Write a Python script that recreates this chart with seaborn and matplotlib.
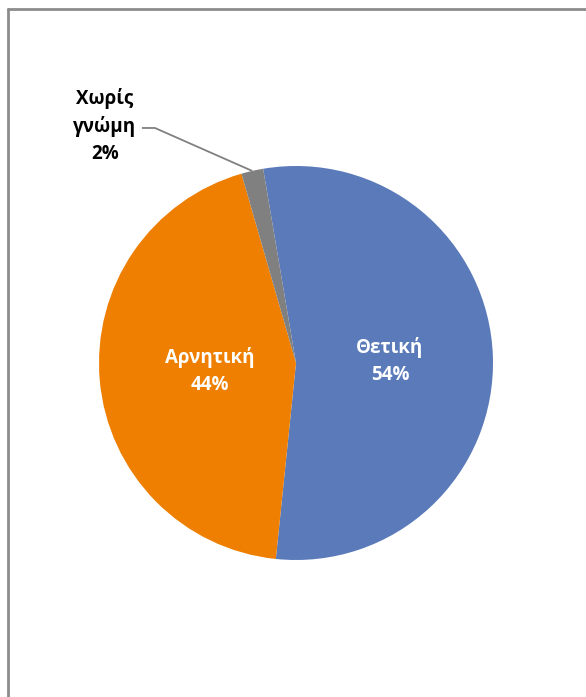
import numpy as np
import matplotlib.pyplot as plt
import seaborn as sns
from matplotlib.lines import Line2D

# slice data (clockwise from the first slice)
labels = ["Θετική", "Αρνητική", "Χωρίς\nγνώμη"]
values = [54.3, 43.9, 1.8]
pct_labels = ["54%", "44%", "2%"]
colors = ["#5A7AB9", "#EE7F00", "#808080"]

sns.set_theme(style="white")
plt.rcParams['font.family'] = ['Open Sans', 'DejaVu Sans']

fig = plt.figure(figsize=(5.86, 6.97), dpi=100)
fig.patch.set_facecolor("white")

# axes placed so the pie sits at centre (296, 363) px with radius 197 px
W, H = 586, 697
cx, cy, r = 296, 363, 197
ax = fig.add_axes([(cx - r) / W, (H - cy - r) / H, 2 * r / W, 2 * r / H])

wedges, _ = ax.pie(values, colors=colors, startangle=99.6, counterclock=False,
                   radius=1.0, wedgeprops=dict(linewidth=0))
ax.set_xlim(-1, 1)
ax.set_ylim(-1, 1)
ax.set_aspect("equal")
ax.axis("off")

# inside labels
ax.text(0.477, 0.01, f"{labels[0]}\n{pct_labels[0]}", ha="center", va="center",
        color="white", fontsize=13.5, fontweight="bold", linespacing=1.45)
ax.text(-0.437, -0.04, f"{labels[1]}\n{pct_labels[1]}", ha="center", va="center",
        color="white", fontsize=13.5, fontweight="bold", linespacing=1.45)

# outside label for the small slice, with a leader line
ax.text(-0.97, 1.205, f"{labels[2]}\n{pct_labels[2]}", ha="center", va="center",
        color="black", fontsize=13.5, fontweight="bold", linespacing=1.45)
g = wedges[2]
mid = np.deg2rad((g.theta1 + g.theta2) / 2)
ax.plot([-0.782, -0.716, np.cos(mid)], [1.193, 1.193, np.sin(mid)],
        color="#808080", lw=1.3, clip_on=False, solid_capstyle="butt")

# chart-area frame (only left and top edges are visible)
fx, fy = 7.5 / W, 1 - 8.5 / H
fig.add_artist(Line2D([fx, fx], [0, fy], transform=fig.transFigure,
                      color="#8C8C8C", lw=2))
fig.add_artist(Line2D([fx, 1], [fy, fy], transform=fig.transFigure,
                      color="#8C8C8C", lw=2))

fig.savefig("out.png", dpi=100, facecolor="white")
